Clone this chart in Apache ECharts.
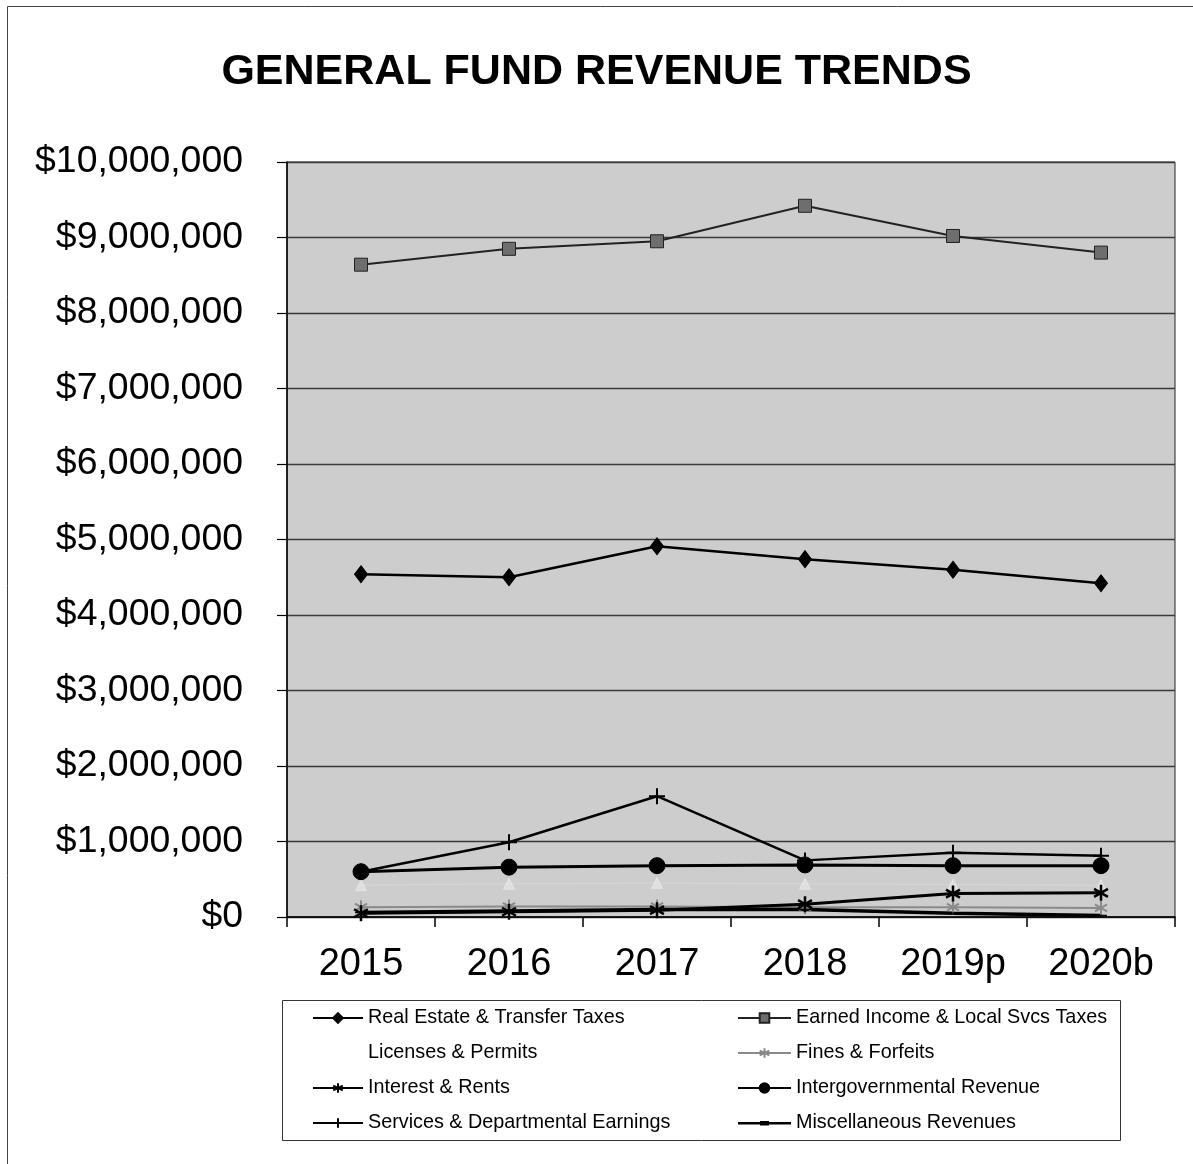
<!DOCTYPE html>
<html>
<head>
<meta charset="utf-8">
<script src="https://cdn.jsdelivr.net/npm/echarts@6/dist/echarts.min.js"></script>
<style>
  html, body { margin: 0; padding: 0; background: #fff; }
  #chart { width: 1193px; height: 1164px; }
</style>
</head>
<body>
<div id="chart"></div>
<script>
// General fund revenue by source, 2015 actuals through 2020 budget
var years = ['2015', '2016', '2017', '2018', '2019p', '2020b'];

var realEstateTransfer = [4540000, 4500000, 4910000, 4740000, 4600000, 4420000];
var earnedIncomeLocalSvcs = [8640000, 8850000, 8950000, 9420000, 9020000, 8800000];
var licensesPermits = [420000, 440000, 450000, 440000, 430000, 420000];
var finesForfeits = [130000, 140000, 140000, 130000, 130000, 120000];
var interestRents = [50000, 70000, 90000, 170000, 310000, 320000];
var intergovernmental = [600000, 660000, 680000, 690000, 680000, 680000];
var servicesDepartmental = [600000, 990000, 1600000, 750000, 850000, 810000];
var miscellaneous = [60000, 80000, 100000, 100000, 50000, 20000];

var yTicks = { min: 0, max: 10000000, step: 1000000 };

var FONT = '"Liberation Sans", Arial, sans-serif';
var PLUS = 'path://M0,-8 L0,8 M-8,0 L8,0';
var STAR = 'path://M0,-10 L0,10 M-8.66,-5 L8.66,5 M-8.66,5 L8.66,-5';
var DASH = 'path://M0,0 L10,0 L10,3 L0,3 Z';
// legend key for the miscellaneous line: thin line with a short dash across it
var DASH_KEY = 'path://M0,0 L0.1,0 L0,0.1 Z M0,12 L0.1,12 L0,11.9 Z ' +
               'M0,5 L53,5 L53,7.5 L0,7.5 Z M22,4 L31,4 L31,8.5 L22,8.5 Z';

function money(v) {
  return '$' + v.toString().replace(/\B(?=(\d{3})+(?!\d))/g, ',');
}

function lineSeries(name, data, opts) {
  return {
    name: name,
    type: 'line',
    data: data,
    symbol: opts.symbol,
    symbolSize: opts.size,
    symbolKeepAspect: true,
    showAllSymbol: true,
    z: opts.z || 2,
    lineStyle: { color: opts.line, width: opts.width },
    itemStyle: {
      color: opts.fill,
      borderColor: opts.border || opts.line,
      borderWidth: opts.borderWidth || 1
    },
    emphasis: { disabled: true },
    animation: false
  };
}

var legendText = { fontFamily: FONT, fontSize: 19.8, color: '#000' };

var chart = echarts.init(document.getElementById('chart'), null, { renderer: 'canvas' });

chart.setOption({
  backgroundColor: '#ffffff',
  animation: false,
  title: {
    text: 'GENERAL FUND REVENUE TRENDS',
    left: 'center',
    top: 46,
    textStyle: { fontFamily: FONT, fontSize: 43, fontWeight: 'bold', color: '#000' }
  },
  grid: {
    left: 287, right: 18, top: 162, bottom: 247,
    show: true,
    backgroundColor: '#cdcdcd',
    borderColor: '#222',
    borderWidth: 1
  },
  xAxis: {
    type: 'category',
    data: years,
    boundaryGap: true,
    axisLine: { lineStyle: { color: '#000', width: 1.5 } },
    axisTick: { show: true, length: 10, lineStyle: { color: '#000', width: 1.5 } },
    axisLabel: { fontFamily: FONT, fontSize: 38, color: '#000', margin: 29 }
  },
  yAxis: {
    type: 'value',
    min: yTicks.min,
    max: yTicks.max,
    interval: yTicks.step,
    axisLine: { show: true, lineStyle: { color: '#000', width: 1.5 } },
    axisTick: { show: true, length: 10, lineStyle: { color: '#000', width: 1.2 } },
    splitLine: { lineStyle: { color: '#3a3a3a', width: 1.3 } },
    axisLabel: { fontFamily: FONT, fontSize: 37.4, color: '#000', margin: 44, formatter: money }
  },
  legend: [
    {
      orient: 'vertical',
      left: 307, top: 1003,
      itemWidth: 50, itemHeight: 12, itemGap: 15,
      textStyle: legendText,
      data: ['Real Estate & Transfer Taxes', 'Licenses & Permits', 'Interest & Rents', 'Services & Departmental Earnings']
    },
    {
      orient: 'vertical',
      left: 732, top: 1003,
      itemWidth: 53, itemHeight: 12, itemGap: 15,
      textStyle: legendText,
      data: [
        'Earned Income & Local Svcs Taxes',
        'Fines & Forfeits',
        'Intergovernmental Revenue',
        { name: 'Miscellaneous Revenues', icon: DASH_KEY, itemStyle: { color: '#000', borderWidth: 0 } }
      ]
    }
  ],
  graphic: [
    {
      type: 'rect', silent: true,
      shape: { x: 7.5, y: 6.5, width: 1220, height: 1220 },
      style: { fill: 'none', stroke: '#444', lineWidth: 1 }
    },
    {
      type: 'rect', silent: true,
      shape: { x: 282.5, y: 1000.5, width: 838, height: 140 },
      style: { fill: 'none', stroke: '#333', lineWidth: 1 }
    }
  ],
  series: [
    lineSeries('Real Estate & Transfer Taxes', realEstateTransfer,
      { symbol: 'diamond', size: [13, 17], line: '#000', fill: '#000', width: 2.5 }),
    lineSeries('Earned Income & Local Svcs Taxes', earnedIncomeLocalSvcs,
      { symbol: 'rect', size: 13, line: '#222', fill: '#6e6e6e', border: '#222', width: 2 }),
    lineSeries('Licenses & Permits', licensesPermits,
      { symbol: 'triangle', size: 11, line: 'rgba(255,255,255,0.2)', fill: 'rgba(255,255,255,0.35)', border: 'rgba(255,255,255,0.35)', width: 1 }),
    lineSeries('Fines & Forfeits', finesForfeits,
      { symbol: STAR, size: 14, line: '#8a8a8a', fill: 'none', border: '#8a8a8a', borderWidth: 2, width: 2 }),
    lineSeries('Interest & Rents', interestRents,
      { symbol: STAR, size: 16, line: '#000', fill: 'none', border: '#000', borderWidth: 2.5, width: 3, z: 4 }),
    lineSeries('Intergovernmental Revenue', intergovernmental,
      { symbol: 'circle', size: 16, line: '#000', fill: '#000', width: 3, z: 3 }),
    lineSeries('Services & Departmental Earnings', servicesDepartmental,
      { symbol: PLUS, size: 16, line: '#000', fill: 'none', border: '#000', borderWidth: 2, width: 2.5, z: 3 }),
    lineSeries('Miscellaneous Revenues', miscellaneous,
      { symbol: DASH, size: [10, 3], line: '#000', fill: '#000', width: 3.5 })
  ]
});
</script>
</body>
</html>
